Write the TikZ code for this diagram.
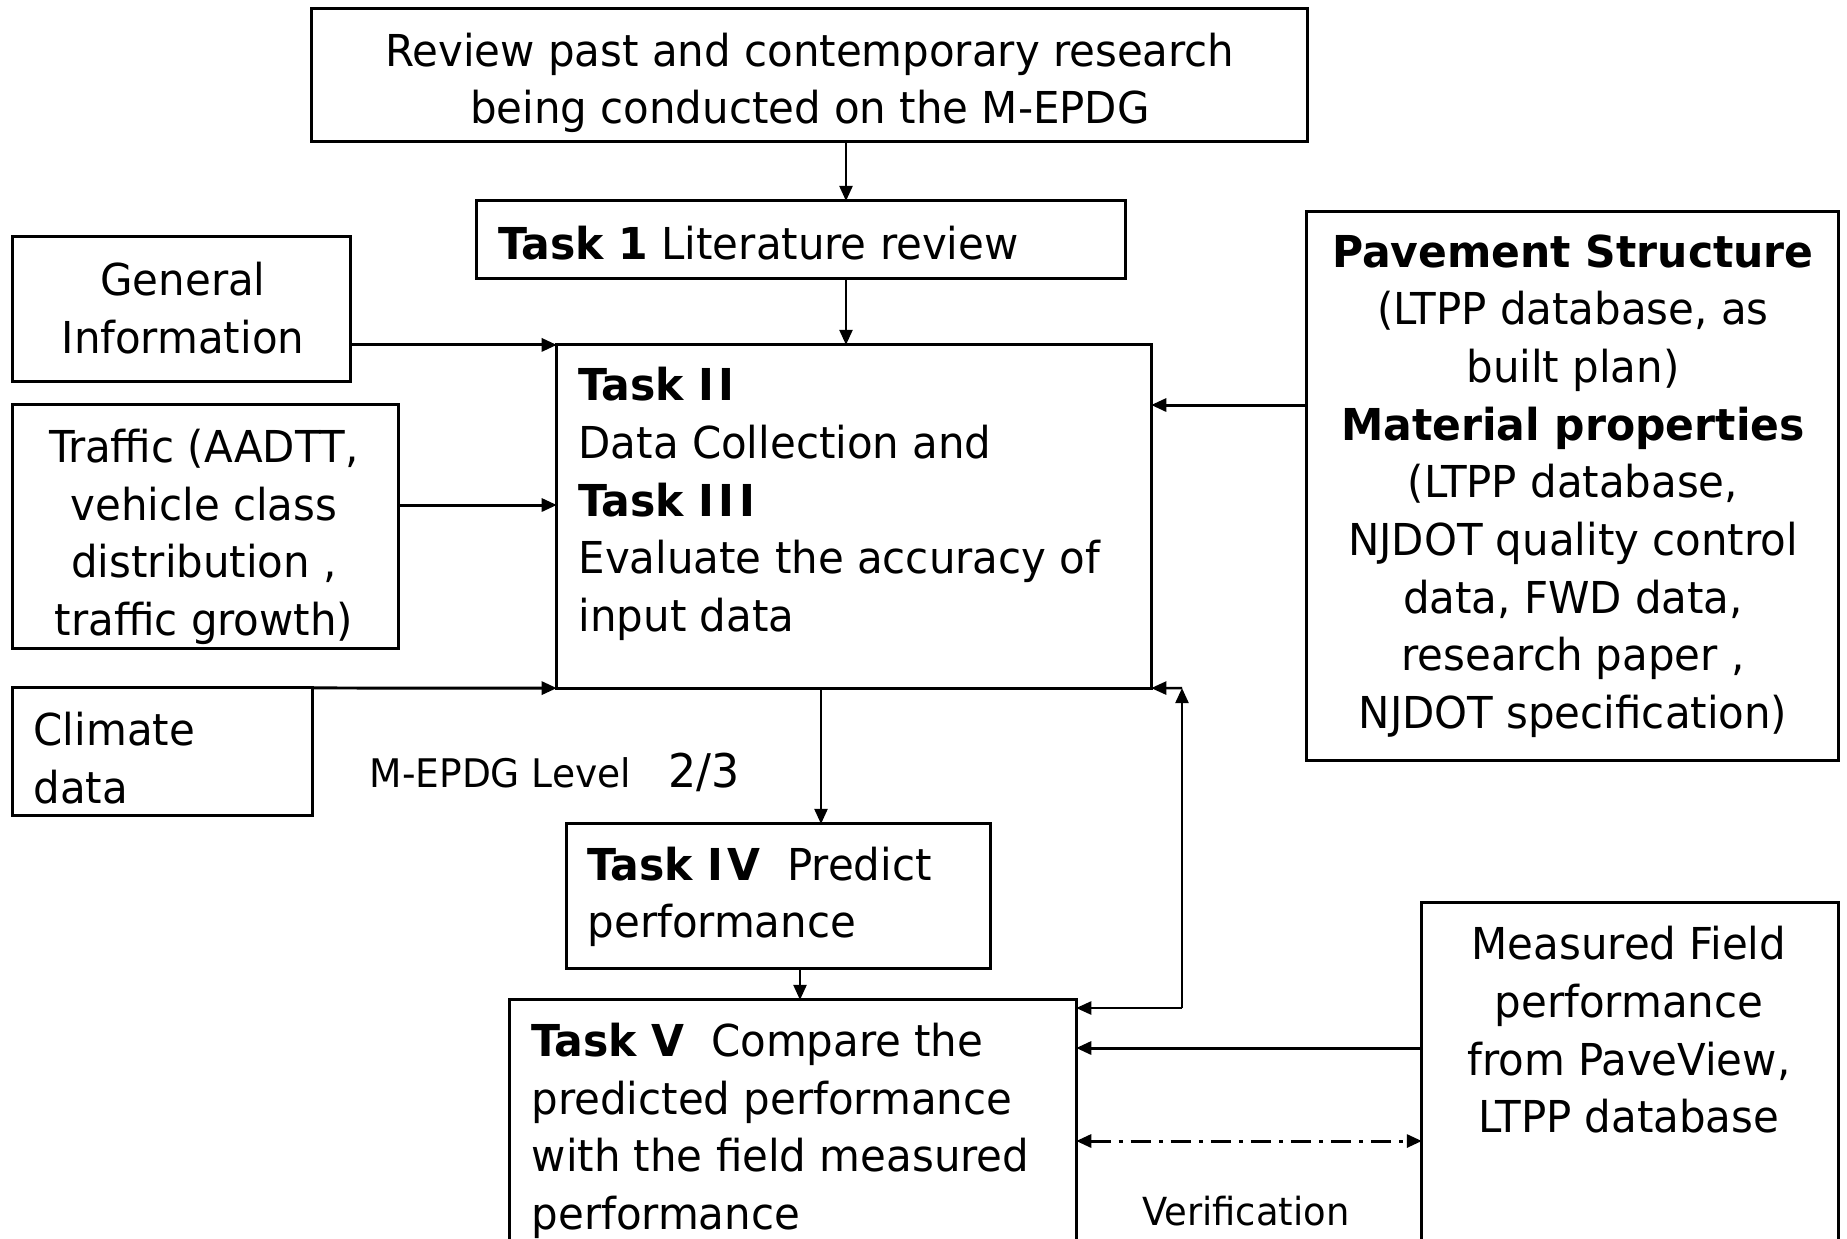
\documentclass[tikz,border=0pt]{standalone}
\usepackage{fontspec}
\setmainfont{DejaVu Sans Condensed}[FakeStretch=1.06,BoldFeatures={FakeStretch=1.075}]
\usetikzlibrary{arrows.meta}
\begin{document}
\begin{tikzpicture}[x=0.01cm,y=-0.01cm,
  box/.style={draw,line width=0.85pt,inner sep=0pt,outer sep=0pt},
  txt/.style={inner sep=0pt,font=\fontsize{12.5}{16.4}\selectfont},
  small/.style={inner sep=0pt,font=\fontsize{11}{14}\selectfont},
  arr/.style={line width=0.7pt,-{Triangle[length=4.3pt,width=3.7pt]}},
  darr/.style={line width=0.85pt,{Triangle[length=4.3pt,width=3.7pt]}-{Triangle[length=4.3pt,width=3.7pt]},dash pattern=on 5.7pt off 2.3pt on 1.1pt off 2.3pt}]
\clip (0,0) rectangle (1847,1238);
\fill[white] (0,0) rectangle (1847,1238);
% boxes
\node[box,minimum width=9.95cm,minimum height=1.32cm] (top) at (809.5,75) {};
\node[box,minimum width=6.48cm,minimum height=0.77cm] (task1) at (801,239.5) {};
\node[box,minimum width=3.37cm,minimum height=1.44cm] (gen) at (181.5,309) {};
\node[box,minimum width=3.85cm,minimum height=2.43cm] (traffic) at (205.5,526.5) {};
\node[box,minimum width=2.99cm,minimum height=1.27cm] (climate) at (162.5,751.5) {};
\node[box,minimum width=5.94cm,minimum height=3.43cm] (task2) at (854,516.5) {};
\node[box,minimum width=5.31cm,minimum height=5.48cm] (pave) at (1572.5,486) {};
\node[box,minimum width=4.23cm,minimum height=1.44cm] (task4) at (778.5,896) {};
\node[box,minimum width=5.66cm,minimum height=2.60cm] (task5) at (793,1130) {};
\node[box,minimum width=4.16cm,minimum height=3.57cm] (meas) at (1630,1081.5) {};
% texts
\node[txt,align=center] (ttop) at (810,83) {Review past and contemporary research\\being conducted on the M-EPDG};
\node[txt,anchor=west] (ttask1) at (498,243) {\textbf{Task 1} Literature review};
\node[txt,align=center] (tgen) at (183,308) {General\\Information};
\node[txt,align=center] (ttraffic) at (204,537) {Traffic (AADTT,\\vehicle class\\distribution ,\\traffic growth)};
\node[txt,align=left,anchor=west] (tclimate) at (33,758) {Climate\\data};
\node[txt,align=left,anchor=west] (ttask2) at (578,504) {\textbf{Task I\hspace{0.1em}I}\\Data Collection and\\\textbf{Task I\hspace{0.1em}I\hspace{0.1em}I}\\Evaluate the accuracy of\\input data};
\node[txt,align=center] (tpave) at (1573,486) {\textbf{Pavement Structure}\\(LTPP database, as\\built plan)\\\textbf{Material properties}\\(LTPP database,\\NJDOT quality control\\data, FWD data,\\research paper ,\\NJDOT specification)};
\node[txt,align=left,anchor=west] (ttask4) at (587,897) {\textbf{Task I\hspace{0.1em}V}\ \ Predict\\performance};
\node[txt,align=left,anchor=west] (ttask5) at (531,1131) {\textbf{Task V}\ \ Compare the\\predicted performance\\with the field measured\\performance};
\node[txt,align=center] (tmeas) at (1629,1030) {Measured Field\\performance\\from PaveView,\\LTPP database};
\node[anchor=west,inner sep=0pt] (level) at (369,772) {{\fontsize{11.2}{14}\selectfont M-EPDG Level}\hspace{1.05em}{\fontsize{13.2}{16.2}\selectfont 2/3}};
\node[small] (verif) at (1246,1211) {Verification};
% helper coordinates
\coordinate (ax1) at (846,0);
\coordinate (ax2) at (821,0);
\coordinate (ax3) at (800,0);
\coordinate (ty) at (0,505);
\coordinate (py) at (0,405);
\coordinate (fbt) at (1182,688);
\coordinate (fbb) at (1182,1008);
\coordinate (my) at (0,1048);
\coordinate (vy) at (0,1141);
% connectors
\draw[arr] (top.south -| ax1) -- (task1.north -| ax1);
\draw[arr] (task1.south -| ax1) -- (task2.north -| ax1);
\draw[arr,line width=0.85pt] (gen.east |- task2.north west) -- (task2.north west);
\draw[arr,line width=0.85pt] (traffic.east |- ty) -- (task2.west |- ty);
\draw[arr,line width=0.85pt] (climate.north east) -- (task2.south west);
\draw[arr,line width=0.85pt] (pave.west |- py) -- (task2.east |- py);
\draw[arr] (task2.south -| ax2) -- (task4.north -| ax2);
\draw[arr] (task4.south -| ax3) -- (task5.north -| ax3);
\draw[arr] (fbb) -- (fbt);
\draw[arr] (fbt) -- (task2.south east);
\draw[arr] (fbb) -- (task5.east |- fbb);
\draw[arr,line width=0.85pt] (meas.west |- my) -- (task5.east |- my);
\draw[darr] (task5.east |- vy) -- (meas.west |- vy);
\end{tikzpicture}
\end{document}
